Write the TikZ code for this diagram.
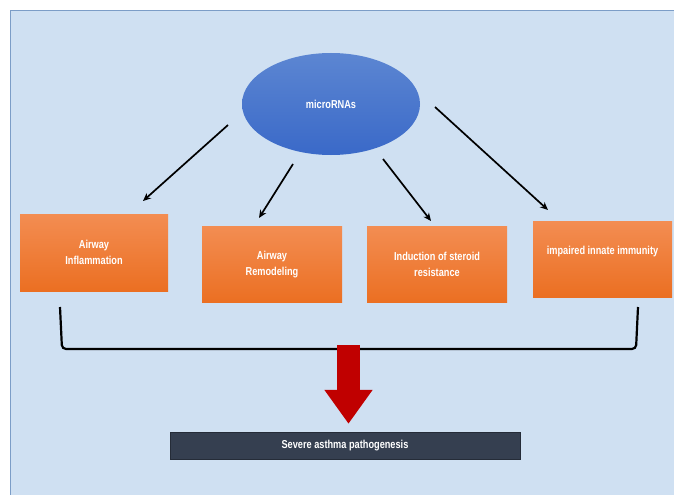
\documentclass[tikz,border=0pt]{standalone}
\usepackage{fontspec}
\setmainfont[FakeStretch=0.8]{Liberation Sans}
\usetikzlibrary{arrows.meta, shapes.geometric}
\definecolor{bgblue}{HTML}{CFE0F2}
\definecolor{edgeblue}{HTML}{7C9DC7}
\definecolor{orangetop}{HTML}{F38D52}
\definecolor{orangebot}{HTML}{EB6F22}
\definecolor{bluetop}{HTML}{5C86D2}
\definecolor{bluebot}{HTML}{3A69C8}
\definecolor{barslate}{HTML}{353F50}
\definecolor{bigred}{HTML}{C00000}
\begin{document}
\begin{tikzpicture}[
    x=1pt, y=-1pt,
    font=\fontsize{11.5}{16.5}\selectfont\bfseries,
    >=Stealth,
    mirna/.style={ellipse, inner sep=0pt, minimum width=178pt, minimum height=102pt, top color=bluetop, bottom color=bluebot, text=white},
    factor/.style={rectangle, align=center, inner sep=0pt, minimum width=140pt, minimum height=76pt, top color=orangetop, bottom color=orangebot, text=white},
    result/.style={rectangle, draw=barslate!70!black, fill=barslate, text=white, inner sep=0pt, minimum width=350pt, minimum height=27pt},
    arrow/.style={->, line width=1.7pt, >={Stealth[length=8pt, width=7pt]}},
    bracket/.style={line width=2.2pt, rounded corners=4pt},
    bigarrow/.style={line width=23pt, bigred, -{Triangle[length=34pt, width=46pt]}}
]
    \useasboundingbox (0,0) rectangle (674,495);

    % Background
    \fill[white] (0,0) rectangle (674,495);
    \fill[bgblue] (10,10) rectangle (674,495);
    \draw[edgeblue, line width=0.8pt] (674,10) -- (10,10) -- (10,495);

    % microRNAs
    \node (mirna) [mirna] at (331,104) {microRNAs};

    % Effects
    \node (inflam) [factor, minimum width=148pt, minimum height=77pt] at (94,252.5) {Airway\\Inflammation};
    \node (remodel) [factor] at (272,264.5) {Airway\\Remodeling};
    \node (steroid) [factor] at (437,264.5) {Induction of steroid\\resistance};
    \node (immune) [factor, minimum width=139pt] at (602.5,259) {impaired innate immunity\\~};

    % Outcome
    \node (severe) [result] at (345,445.5) {Severe asthma pathogenesis};

    % Arrow ends
    \coordinate (s1) at (228,125);
    \coordinate (t1) at (143,201);
    \coordinate (s2) at (293,164);
    \coordinate (t2) at (259,218);
    \coordinate (s3) at (383,159);
    \coordinate (t3) at (431,221);
    \coordinate (s4) at (435,107);
    \coordinate (t4) at (548,210);

    % Arrows
    \draw [arrow] (s1) -- (t1);
    \draw [arrow] (s2) -- (t2);
    \draw [arrow] (s3) -- (t3);
    \draw [arrow] (s4) -- (t4);

    % Bracket
    \coordinate (bl) at (60,307);
    \coordinate (br) at (638,307);
    \draw [bracket] (bl) -- (62,349) -- (636,349) -- (br);

    % Big arrow
    \coordinate (redtop) at (348.5,345);
    \draw [bigarrow, shorten >=8pt] (redtop) -- ([xshift=3.5pt]severe.north);

\end{tikzpicture}
\end{document}
